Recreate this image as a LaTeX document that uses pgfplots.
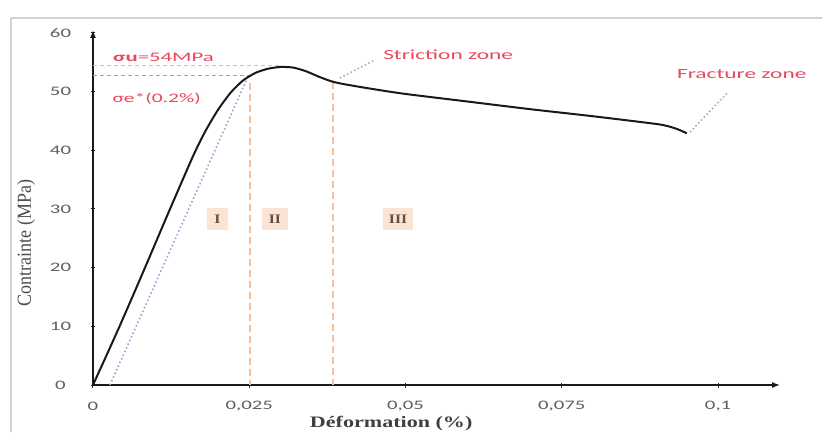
\documentclass[border=0pt]{standalone}
\usepackage{fontspec}
\setmainfont{Carlito}
\newfontfamily\timesf{Liberation Serif}
\usepackage{graphicx}
\usepackage{pgfplots}
\pgfplotsset{compat=1.18}
\usetikzlibrary{arrows.meta}
\definecolor{redtxt}{RGB}{232,72,92}
\definecolor{peach}{RGB}{252,228,212}
\definecolor{orangedash}{RGB}{247,192,155}
\definecolor{bluedot}{RGB}{140,165,205}
\definecolor{cyandash}{RGB}{160,210,228}
\definecolor{ticklab}{RGB}{95,95,95}
\definecolor{romantxt}{RGB}{95,80,65}
\definecolor{leader}{RGB}{170,170,170}
\newcommand{\hs}[2]{\scalebox{#1}[1]{#2}}
\newcommand{\tl}[1]{\hs{1.6}{#1}}
\pgfplotstableread{
x y
0 0
0.004 9.4
0.008 19.2
0.012 29.2
0.016 39.0
0.018 43.3
0.020 46.9
0.022 49.8
0.024 51.9
0.026 53.2
0.028 53.9
0.030 54.2
0.032 54.1
0.034 53.5
0.036 52.6
0.038 51.8
0.040 51.3
0.045 50.4
0.050 49.6
0.060 48.3
0.070 47.0
0.080 45.8
0.090 44.5
0.092 44.1
0.0935 43.6
0.095 42.9
}\curve
\begin{document}
\begin{tikzpicture}[x=1pt,y=1pt]
\useasboundingbox (0,0) rectangle (822,432);
\draw[gray!35, line width=1.2pt] (11,0) -- (11,414) -- (822,414);
\begin{axis}[
  at={(93pt,47pt)}, anchor=south west,
  scale only axis, width=687pt, height=355pt,
  xmin=0, xmax=0.1099, ymin=0, ymax=60.5,
  axis lines=left,
  axis line style={-{Latex[length=8pt,width=6pt]}, line width=1.3pt, black!90},
  xtick={0,0.025,0.05,0.075,0.1},
  xticklabels={\tl{0},\tl{0,025},\tl{0,05},\tl{0,075},\tl{0,1}},
  ytick={0,10,20,30,40,50,60},
  yticklabels={\tl{0},\tl{10},\tl{20},\tl{30},\tl{40},\tl{50},\tl{60}},
  tick style={black!85, line width=1pt},
  major tick length=5pt, tick align=center,
  xticklabel style={anchor=center, yshift=-19pt, font=\fontsize{13}{13}\selectfont, text=ticklab},
  yticklabel style={anchor=center, xshift=-30pt, font=\fontsize{13}{13}\selectfont, text=ticklab},
  xlabel={\hs{1.38}{\timesf\bfseries D\'eformation (\%)}},
  xlabel style={at={(axis description cs:0.434,-0.121)}, anchor=base, font=\fontsize{16}{16}\selectfont, text=black!75},
  ylabel={\scalebox{1}[1.1]{\timesf Contrainte (MPa)}},
  ylabel style={at={(axis description cs:-0.0975,0.40)}, anchor=center, font=\fontsize{18}{18}\selectfont, text=black!70},
  clip=false,
]
% reference lines
\addplot[cyandash, line width=1.2pt, dash pattern=on 4pt off 3pt] coordinates {(0,54.5) (0.030,54.5)};
\addplot[bluedot, line width=1.2pt, dash pattern=on 4pt off 3pt] coordinates {(0,52.8) (0.0249,52.8)};
\addplot[bluedot, line width=1.6pt, dash pattern=on 1.5pt off 2.5pt] coordinates {(0.0027,0) (0.0249,52.8)};
\addplot[orangedash, line width=1.5pt, dash pattern=on 7pt off 4pt] coordinates {(0.0251,51.4) (0.0251,0)};
\addplot[orangedash, line width=1.5pt, dash pattern=on 7pt off 4pt] coordinates {(0.0384,51.6) (0.0384,0)};
\addplot[leader, line width=1.6pt, dash pattern=on 1.5pt off 2.5pt] coordinates {(0.0395,52.3) (0.0451,55.4)};
\addplot[leader, line width=1.6pt, dash pattern=on 1.5pt off 2.5pt] coordinates {(0.0955,43.1) (0.1014,49.7)};
% main curve
\addplot[black!90, line width=2pt, smooth, tension=0.4] table[x=x,y=y] {\curve};
% texts
\node[anchor=base west, inner sep=0, text=redtxt, font=\fontsize{13}{13}\selectfont] at (axis cs:0.0032,55.2) {\hs{1.75}{\textbf{σu}=54MPa}};
\node[anchor=base west, inner sep=0, text=redtxt, font=\fontsize{13}{13}\selectfont] at (axis cs:0.0031,48.1) {\hs{1.65}{σe*(0.2\%)}};
\node[anchor=base west, inner sep=0, text=redtxt, font=\fontsize{14}{14}\selectfont] at (axis cs:0.0464,55.5) {\hs{1.67}{Striction zone}};
\node[anchor=base west, inner sep=0, text=redtxt, font=\fontsize{14}{14}\selectfont] at (axis cs:0.0934,52.2) {\hs{1.67}{Fracture zone}};
\node[fill=peach, minimum width=21pt, minimum height=22pt, inner sep=0, text=romantxt, font=\timesf\bfseries\fontsize{13}{13}\selectfont] at (axis cs:0.0199,28.3) {\hs{1.2}{I}};
\node[fill=peach, minimum width=26pt, minimum height=22pt, inner sep=0, text=romantxt, font=\timesf\bfseries\fontsize{13}{13}\selectfont] at (axis cs:0.0291,28.3) {\hs{1.2}{II}};
\node[fill=peach, minimum width=30pt, minimum height=22pt, inner sep=0, text=romantxt, font=\timesf\bfseries\fontsize{13}{13}\selectfont] at (axis cs:0.0488,28.3) {\hs{1.2}{III}};
\end{axis}
\end{tikzpicture}
\end{document}
